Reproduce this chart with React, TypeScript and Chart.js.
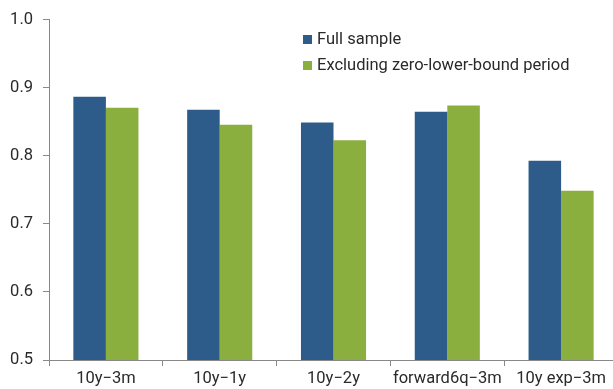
import React, { useEffect, useRef } from "react";
import { Chart, registerables } from "chart.js";

Chart.register(...registerables);

const categories = ["10y\u22123m", "10y\u22121y", "10y\u22122y", "forward6q\u22123m", "10y exp\u22123m"];
const fullSample = [0.887, 0.868, 0.849, 0.865, 0.793];
const excludingZlb = [0.871, 0.846, 0.823, 0.874, 0.749];
const seriesLabels = ["Full sample", "Excluding zero-lower-bound period"];
const seriesColors = ["#2E5C8A", "#8BAF3F"];
const yTicks = [0.5, 0.6, 0.7, 0.8, 0.9, 1.0];

const FONT = "Roboto, 'Liberation Sans', Arial, sans-serif";
const TEXT = "#2a2a2a";

export default function App() {
  const ref = useRef<HTMLCanvasElement | null>(null);

  useEffect(() => {
    document.body.style.margin = "0";
    const canvas = ref.current;
    if (!canvas) return;
    const chart = new Chart(canvas, {
      type: "bar",
      data: {
        labels: categories,
        datasets: [
          {
            label: seriesLabels[0],
            data: fullSample,
            backgroundColor: seriesColors[0],
            borderWidth: 0,
            categoryPercentage: 0.572,
            barPercentage: 1,
          },
          {
            label: seriesLabels[1],
            data: excludingZlb,
            backgroundColor: seriesColors[1],
            borderWidth: 0,
            categoryPercentage: 0.572,
            barPercentage: 1,
          },
        ],
      },
      options: {
        responsive: false,
        animation: false,
        maintainAspectRatio: false,
        layout: { padding: { top: 18, right: 0, left: 0, bottom: 0 } },
        plugins: {
          legend: { display: false },
          tooltip: { enabled: false },
          title: { display: false },
        },
        scales: {
          x: {
            offset: true,
            grid: {
              display: true,
              offset: true,
              drawOnChartArea: false,
              drawTicks: true,
              tickLength: 6,
              color: "#888888",
            },
            border: { display: true, color: "#888888", width: 1 },
            ticks: {
              color: TEXT,
              font: { family: FONT, size: 16.5 },
              padding: 3,
              maxRotation: 0,
              autoSkip: false,
            },
            afterFit: (s: any) => {
              s.height = 29;
            },
          },
          y: {
            min: 0.5,
            max: 1.0,
            afterBuildTicks: (s: any) => {
              s.ticks = yTicks.map((v) => ({ value: v }));
            },
            grid: {
              display: true,
              drawOnChartArea: false,
              drawTicks: true,
              tickLength: 6,
              color: "#888888",
            },
            border: { display: true, color: "#888888", width: 1 },
            ticks: {
              color: TEXT,
              font: { family: FONT, size: 16.5 },
              padding: 10,
              callback: (v: any) => Number(v).toFixed(1),
            },
            afterFit: (s: any) => {
              s.width = 49;
            },
          },
        },
      },
    });
    return () => chart.destroy();
  }, []);

  return (
    <div style={{ position: "relative", width: 613, height: 389, background: "#fff", overflow: "hidden" }}>
      <canvas ref={ref} width={618} height={389} style={{ display: "block" }} />
      <div
        style={{
          position: "absolute",
          left: 303,
          top: 26,
          fontFamily: FONT,
          fontSize: 16.5,
          color: TEXT,
          lineHeight: "26px",
        }}
      >
        {seriesLabels.map((l, i) => (
          <div key={l} style={{ display: "flex", alignItems: "center", whiteSpace: "nowrap", height: 26 }}>
            <span
              style={{
                display: "inline-block",
                width: 9,
                height: 9,
                background: seriesColors[i],
                marginRight: 5,
              }}
            />
            {l}
          </div>
        ))}
      </div>
    </div>
  );
}
